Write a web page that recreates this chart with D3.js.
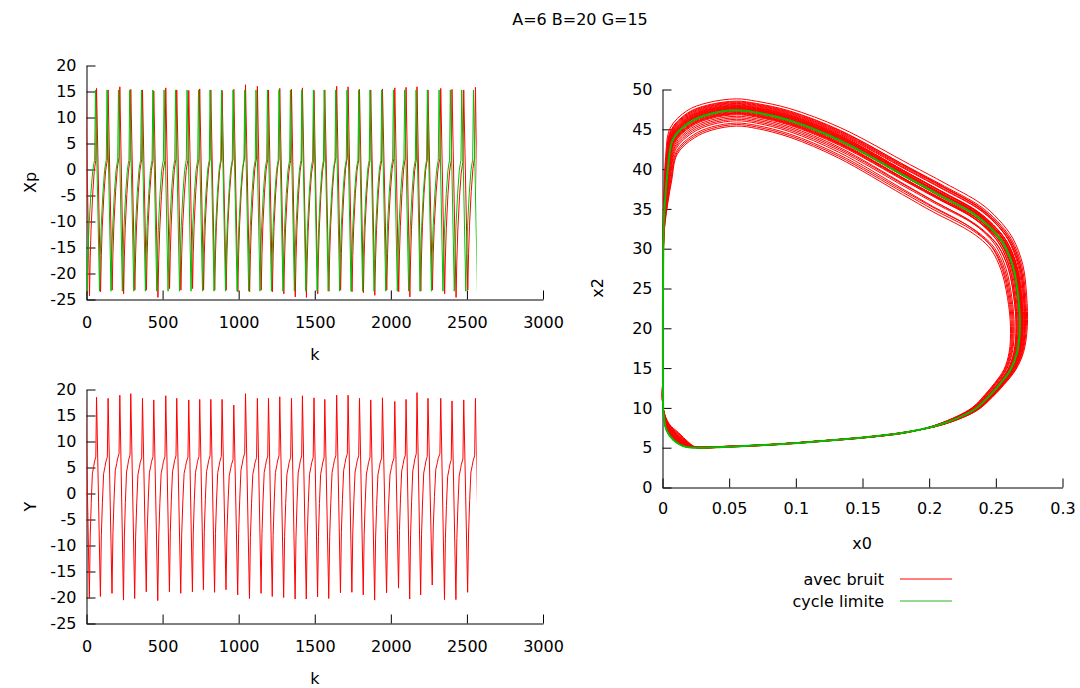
<!DOCTYPE html>
<html><head><meta charset="utf-8">
<script src="https://cdn.jsdelivr.net/npm/d3@7"></script>
<style>
body{margin:0;background:#fff}
text{font-family:"DejaVu Sans",sans-serif;font-size:16px;fill:#000}
</style>
</head><body>
<svg id="c" width="1080" height="688"></svg>
<script>
// ---------------- data ----------------
const titleText = "A=6 B=20 G=15";
const kTicks = [0, 500, 1000, 1500, 2000, 2500, 3000];
const xpTicks = [-25, -20, -15, -10, -5, 0, 5, 10, 15, 20];
const yTicks = [-25, -20, -15, -10, -5, 0, 5, 10, 15, 20];
const x0Ticks = [0, 0.05, 0.1, 0.15, 0.2, 0.25, 0.3];
const x2Ticks = [0, 5, 10, 15, 20, 25, 30, 35, 40, 45, 50];
const kEnd = 2564;

// limit cycle (green): peak instants of Xp
const greenPeakK = [-25, 59, 135, 210, 284, 361, 436, 510, 585, 661, 736, 812, 887, 963, 1040, 1114, 1189, 1265, 1340, 1415, 1491, 1562, 1638, 1712, 1789, 1863, 1940, 2017, 2091, 2166, 2240, 2317, 2391, 2466, 2543];
const greenXpPeak = 15.3;
const greenXpTrough = -23.4;

// noisy run (red): peak instants, peaks and troughs per cycle
const redPeakK = [-5, 66, 142, 219, 291, 368, 442, 521, 593, 672, 744, 817, 891, 968, 1045, 1123, 1196, 1270, 1347, 1419, 1495, 1566, 1644, 1719, 1794, 1868, 1945, 2026, 2100, 2172, 2244, 2328, 2402, 2479, 2556];
const redXpPeak = [15.5, 15.6, 15.3, 15.9, 15.4, 15.3, 15.1, 15.7, 15.3, 15.2, 15.5, 15.3, 15.2, 15.4, 16.3, 16.0, 15.3, 15.6, 15.4, 15.7, 15.2, 15.3, 16.0, 15.9, 15.4, 15.3, 15.5, 15.7, 15.8, 15.9, 15.3, 15.6, 15.4, 15.3, 15.8];
const redXpTrough = [-24.3, -23.5, -23.2, -23.9, -23.2, -23.2, -24.6, -22.9, -23.2, -22.9, -23.2, -23.2, -23.2, -23.5, -23.5, -23.2, -23.5, -23.9, -24.5, -24.6, -23.9, -23.4, -23.2, -23.5, -23.7, -24.2, -23.2, -23.5, -24.5, -23.4, -23.2, -23.9, -24.6, -23.2, -23.5];
const redYPeak = [18.6, 18.5, 18.3, 18.9, 19.2, 18.3, 18.0, 18.8, 18.3, 18.0, 18.1, 18.1, 18.1, 17.0, 19.2, 18.3, 18.3, 18.6, 18.3, 18.8, 18.4, 18.1, 18.9, 18.9, 18.3, 18.0, 18.4, 17.7, 18.1, 19.4, 18.3, 18.3, 17.8, 18.0, 18.3];
const redYTrough = [-20.2, -19.8, -19.2, -20.5, -20.2, -18.9, -20.6, -18.9, -19.2, -18.9, -18.5, -19.0, -18.5, -19.5, -20.2, -19.2, -19.8, -20.0, -20.3, -20.3, -19.9, -20.2, -19.1, -19.0, -19.5, -20.5, -19.1, -18.2, -20.3, -19.5, -17.6, -20.4, -20.4, -19.0, -19.5];

// waveform of one cycle (steps after the peak, level 1 = peak, 0 = trough)
const xpShapeDK    = [0, 26, 31, 37, 48, 59, 66, 70];
const xpShapeLevel = [1, 0, 0.18, 0.32, 0.486, 0.60, 0.636, 0.651];
const yShapeDK     = [0, 25, 31, 38, 46, 55, 60, 70];
const yShapeLevel  = [1, 0, 0.306, 0.473, 0.62, 0.655, 0.678, 0.704];

// phase portrait: limit cycle (x0, x2) and how far the noisy loops spread around it
const cycleX0 = [0.0005, 0.0003, 0.0003, 0.0005, 0.0010, 0.0025, 0.0042, 0.008, 0.0205, 0.035, 0.0555, 0.0705, 0.0955, 0.133, 0.183, 0.208, 0.233, 0.2455, 0.2555, 0.263, 0.2667, 0.268, 0.266, 0.261, 0.253, 0.245, 0.234, 0.21, 0.185, 0.158, 0.12, 0.083, 0.0455, 0.023, 0.0155, 0.008, 0.003, 0.0005];
const cycleX2 = [9.7, 15, 22, 28, 33.6, 37.3, 40.3, 43.8, 45.9, 46.9, 47.4, 47.1, 46.1, 43.6, 39.0, 36.7, 34.4, 32.7, 30.7, 27.7, 24.0, 20.2, 17.0, 14.8, 13.0, 11.5, 9.8, 8.0, 7.0, 6.4, 5.85, 5.4, 5.1, 5.0, 5.2, 6.0, 7.2, 9.7];
const topSpreadX0 = [0, 0, 0, 0, -0.0005, -0.0015, -0.0025, -0.003, -0.003, -0.002, 0, 0, 0, 0, 0, 0, 0, 0, 0, 0, 0, 0, 0, 0, 0, 0, 0, 0, 0, 0, 0, 0, 0, 0, 0, 0, 0, 0];
const topSpreadX2 = [0, 0, 0, 0.3, 1.0, 1.4, 1.7, 1.8, 1.9, 1.9, 1.9, 1.9, 2.0, 2.1, 1.9, 1.7, 1.4, 1.0, 0.6, 0.3, 0.1, 0, 0, 0, 0, 0, 0, 0, 0, 0, 0.05, 0.05, 0.08, 0.1, 0, 0, 0, 0];
const rightSpreadX0 = [0, 0, 0, 0, 0, 0, 0, 0, 0, 0, 0, 0, 0, 0.001, 0.003, 0.005, 0.007, 0.008, 0.009, 0.009, 0.008, 0.007, 0.006, 0.005, 0.004, 0.003, 0.002, 0.001, 0, 0, 0, 0, 0, 0, 0, 0, 0, 0];
const rightSpreadX2 = [0, 0, 0, 0, 0, 0, 0, 0, 0, 0, 0, 0, 0, 0, 0.2, 0.3, 0.3, 0.3, 0.2, 0.1, 0, 0, 0, 0, -0.1, -0.2, -0.2, -0.1, 0.05, 0.05, 0, 0, 0, 0, 0, 0, 0, 0];
const cornerSpreadX0 = [0, 0, 0, 0, 0, 0, 0, 0, 0, 0, 0, 0, 0, 0, 0, 0, 0, 0, 0, 0, 0, 0, 0, 0, 0, 0, 0, 0, 0, 0, 0, 0, 0, 0.002, 0.004, 0.004, 0.002, 0];
const cornerSpreadX2 = [0.3, 0, 0, 0, 0, 0, 0, 0, 0, 0, 0, 0, 0, 0, 0, 0, 0, 0, 0, 0, 0, 0, 0, 0, 0, 0, 0, 0, 0, 0, 0, 0, 0.05, 0.15, 0.5, 0.9, 0.8, 0.3];
// deviation of each noisy loop (-1 inner ... +1 outer)
const loopTop    = [0.1, -0.3, 0.5, -1.05, 0.2, 0.0, -0.2, 0.75, 0.3, -0.6, 0.1, -0.1, 0.4, -0.85, 0.2, 0.0, 0.6, -0.4, 0.1, -0.2, 0.3, -0.7, 0.05, 0.45, -0.15, 0.25, -0.95, 0.15, -0.05, 0.35, -0.5, 0.2, 0.55, -0.25];
const loopRight  = [0.2, -0.1, 0.6, -1.0, 0.3, -0.2, 0.0, 0.8, 0.1, -0.4, 0.3, -0.3, 0.5, -0.7, 0.0, 0.2, 0.4, -0.6, 0.2, 0.0, 0.1, -0.9, 0.2, 0.6, -0.3, 0.3, -0.8, 0.0, 0.1, 0.5, -0.4, 0.3, 0.7, -0.1];
const loopCorner = [0.3, 0.6, 0.1, 0.9, 0.4, 0.2, 0.7, 0.0, 0.5, 1.0, 0.3, 0.1, 0.6, 0.8, 0.2, 0.4, 0.0, 0.7, 0.3, 0.5, 0.1, 0.9, 0.4, 0.2, 0.6, 0.3, 0.8, 0.1, 0.5, 0.2, 0.7, 0.4, 0.0, 0.6];

const legendLabels = ["avec bruit", "cycle limite"];
const RED = "#ff0000", GREEN = "#00c000";

// ---------------- build ----------------
function buildSeries(peakK, peakV, troughV, shapeDK, shapeLevel) {
  const pts = [];
  for (let i = 0; i < peakK.length; i++) {
    const P = Array.isArray(peakV) ? peakV[i] : peakV;
    const T = Array.isArray(troughV) ? troughV[i] : troughV;
    const Pn = Array.isArray(peakV) ? (peakV[i + 1] ?? P) : peakV;
    const per = (peakK[i + 1] ?? (peakK[i] + 75)) - peakK[i];
    shapeDK.forEach((dk, j) => {
      const k = peakK[i] + dk * per / 75;
      const v = j === 0 ? P : T + shapeLevel[j] * (Pn - T);
      pts.push([k, v]);
    });
  }
  return pts;
}
const greenXp = buildSeries(greenPeakK, greenXpPeak, greenXpTrough, xpShapeDK, xpShapeLevel);
const redXp = buildSeries(redPeakK, redXpPeak, redXpTrough, xpShapeDK, xpShapeLevel);
const redY = buildSeries(redPeakK, redYPeak, redYTrough, yShapeDK, yShapeLevel);

const cycle = cycleX0.map((x, i) => [x, cycleX2[i]]);
const noisy = [];
loopTop.forEach((ft, l) => {
  const fr = loopRight[l], fc = loopCorner[l];
  cycleX0.forEach((x, i) => {
    if (l > 0 && i === 0) return;
    noisy.push([x + ft * topSpreadX0[i] + fr * rightSpreadX0[i] + fc * cornerSpreadX0[i],
                cycleX2[i] + ft * topSpreadX2[i] + fr * rightSpreadX2[i] + fc * cornerSpreadX2[i]]);
  });
});

// ---------------- draw ----------------
const svg = d3.select("#c");
svg.append("text").attr("x", 580).attr("y", 25).attr("text-anchor", "middle").text(titleText);

const fmt = d => String(d);
function styleAxis(g) {
  g.attr("font-family", "DejaVu Sans").attr("font-size", 16);
  g.selectAll("line,path").attr("stroke", "#000");
}

function timePanel(yTop, yBot, yTickVals, yLabel, series, clipId) {
  const x = d3.scaleLinear().domain([0, 3000]).range([86.5, 543]);
  const y = d3.scaleLinear().domain([-25, 20]).range([yBot, yTop]);
  const gx = svg.append("g").attr("transform", `translate(0,${yBot})`)
    .call(d3.axisBottom(x).tickValues(kTicks).tickFormat(fmt).tickSize(-9).tickSizeOuter(0).tickPadding(17));
  styleAxis(gx);
  const gy = svg.append("g").attr("transform", `translate(${x(0)},0)`)
    .call(d3.axisLeft(y).tickValues(yTickVals).tickFormat(fmt).tickSize(-9).tickSizeOuter(0).tickPadding(10));
  styleAxis(gy);
  svg.append("clipPath").attr("id", clipId).append("rect")
    .attr("x", x(0)).attr("y", yTop - 20).attr("width", x(kEnd) - x(0)).attr("height", yBot - yTop + 40);
  const line = d3.line().x(d => x(d[0])).y(d => y(d[1]));
  series.forEach(s => {
    svg.append("path").attr("d", line(s.data)).attr("fill", "none")
      .attr("stroke", s.color).attr("stroke-width", 1).attr("clip-path", `url(#${clipId})`);
  });
  svg.append("text").attr("transform", `translate(30,${(yTop + yBot) / 2}) rotate(-90)`)
    .attr("text-anchor", "middle").attr("dy", "0.35em").text(yLabel);
  svg.append("text").attr("x", 315).attr("y", yBot + 60).attr("text-anchor", "middle").text("k");
}

timePanel(65.5, 299.5, xpTicks, "Xp", [{data: redXp, color: RED}, {data: greenXp, color: GREEN}], "clipA");
timePanel(389.5, 623.5, yTicks, "Y", [{data: redY, color: RED}], "clipB");

// phase portrait
const px = d3.scaleLinear().domain([0, 0.3]).range([662.5, 1062.5]);
const py = d3.scaleLinear().domain([0, 50]).range([487.5, 89.5]);
const pgx = svg.append("g").attr("transform", `translate(0,${py(0)})`)
  .call(d3.axisBottom(px).tickValues(x0Ticks).tickFormat(fmt).tickSize(-9).tickSizeOuter(0).tickPadding(15));
styleAxis(pgx);
const pgy = svg.append("g").attr("transform", `translate(${px(0)},0)`)
  .call(d3.axisLeft(py).tickValues(x2Ticks).tickFormat(fmt).tickSize(-9).tickSizeOuter(0).tickPadding(10));
styleAxis(pgy);
const pline = d3.line().x(d => px(d[0])).y(d => py(d[1])).curve(d3.curveCatmullRom.alpha(0.5));
svg.append("path").attr("d", pline(noisy)).attr("fill", "none").attr("stroke", RED).attr("stroke-width", 1);
svg.append("path").attr("d", pline(cycle)).attr("fill", "none").attr("stroke", GREEN).attr("stroke-width", 2);
svg.append("text").attr("transform", `translate(597,288) rotate(-90)`).attr("text-anchor", "middle").attr("dy", "0.35em").text("x2");
svg.append("text").attr("x", 862).attr("y", 549).attr("text-anchor", "middle").text("x0");

// legend
const legColors = [RED, "#22b822"];
legendLabels.forEach((t, i) => {
  const yy = 579 + i * 22;
  svg.append("text").attr("x", 884).attr("y", yy + 5.5).attr("text-anchor", "end").text(t);
  svg.append("line").attr("x1", 900).attr("x2", 952).attr("y1", yy).attr("y2", yy)
    .attr("stroke", legColors[i]).attr("stroke-width", 1);
});
</script>
</body></html>
